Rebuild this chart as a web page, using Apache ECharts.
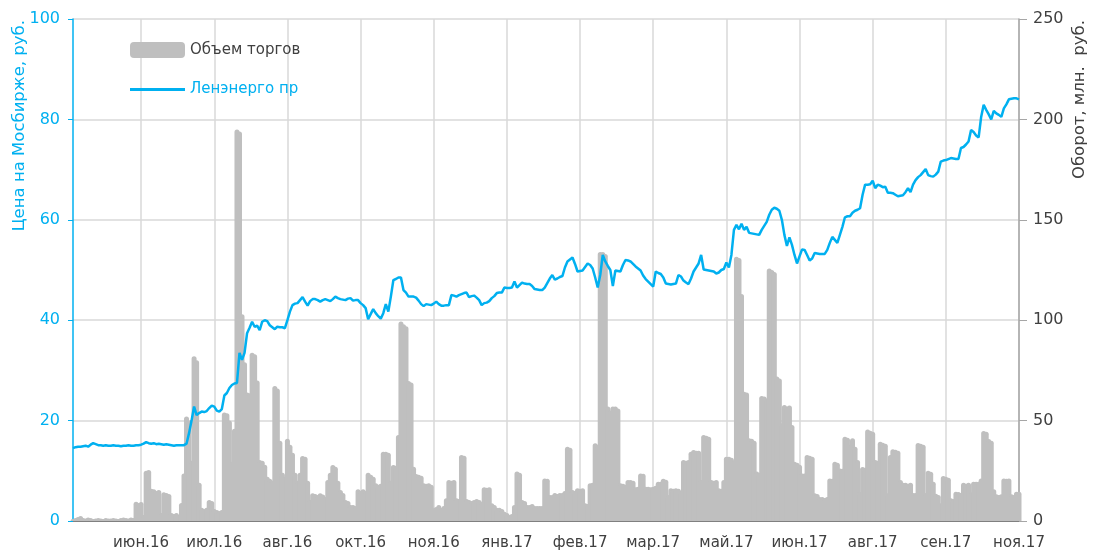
<!DOCTYPE html>
<html>
<head>
<meta charset="utf-8">
<script src="https://cdn.jsdelivr.net/npm/echarts@6/dist/echarts.min.js"></script>
<style>
  html, body { margin: 0; padding: 0; background: #fff; }
  #main { width: 1103px; height: 554px; }
</style>
</head>
<body>
<div id="main"></div>
<script>
// month labels shown under the x axis, one every tickStep trading days
const tickLabels = ['июн.16', 'июл.16', 'авг.16', 'окт.16', 'ноя.16', 'янв.17', 'фев.17',
  'мар.17', 'май.17', 'июн.17', 'авг.17', 'сен.17', 'ноя.17']
const firstTick = 27
const tickStep = 29

// close price, rub (left axis)
const price = [
  14.5, 14.7, 14.8, 14.8, 14.9, 15.0, 14.8, 15.2, 15.5, 15.3,
  15.1, 15.1, 15.0, 15.1, 15.0, 15.0, 15.1, 15.0, 15.0, 14.9,
  15.0, 15.0, 15.1, 15.0, 15.0, 15.1, 15.1, 15.2, 15.4, 15.7,
  15.5, 15.4, 15.5, 15.3, 15.4, 15.3, 15.2, 15.3, 15.2, 15.1,
  15.0, 15.1, 15.1, 15.1, 15.1, 15.4, 17.5, 20.0, 22.8, 21.1,
  21.5, 21.8, 21.7, 21.9, 22.5, 23.0, 22.8, 22.0, 21.8, 22.3,
  25.0, 25.5, 26.5, 27.1, 27.4, 27.5, 33.5, 32.1, 33.5, 37.4,
  38.5, 39.7, 38.7, 38.9, 38.0, 39.7, 40.0, 39.8, 39.0, 38.6,
  38.2, 38.7, 38.6, 38.6, 38.4, 40.0, 41.7, 43.0, 43.3, 43.4,
  44.0, 44.6, 43.7, 42.9, 43.8, 44.2, 44.2, 44.0, 43.7, 44.0,
  44.2, 44.0, 43.8, 44.2, 44.7, 44.4, 44.2, 44.1, 44.0, 44.3,
  44.4, 43.9, 44.0, 44.0, 43.4, 43.0, 42.4, 40.2, 41.2, 42.2,
  41.4, 40.8, 40.3, 41.4, 43.2, 41.7, 44.7, 48.0, 48.2, 48.5,
  48.5, 46.0, 45.5, 44.7, 44.7, 44.7, 44.5, 43.9, 43.2, 42.8,
  43.2, 43.1, 43.0, 43.3, 43.7, 43.2, 42.9, 42.9, 43.0, 43.0,
  45.0, 44.9, 44.7, 45.0, 45.2, 45.4, 45.5, 44.6, 44.8, 44.9,
  44.5, 44.0, 43.0, 43.4, 43.5, 43.8, 44.4, 44.8, 45.4, 45.5,
  45.5, 46.5, 46.4, 46.4, 46.5, 47.7, 46.5, 47.0, 47.5, 47.3,
  47.2, 47.2, 46.8, 46.2, 46.1, 46.0, 46.0, 46.5, 47.4, 48.3,
  49.0, 48.1, 48.3, 48.6, 48.8, 50.5, 51.7, 52.1, 52.5, 51.2,
  49.7, 49.8, 49.9, 50.6, 51.3, 51.0, 50.3, 48.5, 46.5, 49.0,
  53.0, 51.7, 50.8, 50.0, 46.8, 49.9, 49.8, 49.7, 51.0, 52.0,
  51.9, 51.7, 51.2, 50.7, 50.3, 49.9, 48.9, 48.2, 47.7, 47.2,
  46.7, 49.7, 49.4, 49.2, 48.5, 47.3, 47.2, 47.1, 47.2, 47.3,
  49.0, 48.7, 47.9, 47.5, 47.2, 48.3, 49.7, 50.5, 51.3, 53.0,
  50.1, 50.0, 49.9, 49.8, 49.7, 49.3, 49.5, 50.0, 50.2, 51.5,
  50.5, 53.0, 58.0, 59.0, 58.1, 59.2, 58.0, 58.6, 57.4, 57.3,
  57.2, 57.1, 57.0, 58.0, 58.8, 59.6, 61.0, 62.0, 62.4, 62.2,
  61.8, 60.0, 57.0, 54.8, 56.5, 55.0, 53.0, 51.3, 52.7, 54.1,
  54.0, 53.0, 51.9, 52.3, 53.4, 53.3, 53.2, 53.2, 53.2, 54.0,
  55.4, 56.6, 56.0, 55.4, 57.0, 58.6, 60.5, 60.7, 60.7, 61.4,
  61.8, 62.0, 62.3, 65.0, 67.0, 67.0, 67.1, 67.8, 66.3, 67.0,
  66.8, 66.5, 66.6, 65.4, 65.4, 65.3, 65.0, 64.7, 64.8, 64.9,
  65.5, 66.3, 65.5, 67.0, 67.9, 68.5, 68.9, 69.5, 70.1, 68.9,
  68.7, 68.6, 69.0, 69.6, 71.6, 71.8, 71.9, 72.1, 72.3, 72.2,
  72.1, 72.1, 74.3, 74.5, 75.0, 75.6, 77.9, 77.5, 76.8, 76.4,
  80.5, 82.9, 81.9, 81.0, 80.0, 81.7, 81.2, 80.9, 80.5, 82.2,
  83.0, 84.0, 84.1, 84.2, 84.2, 84.0
]

// turnover, mln rub (right axis)
const volume = [
  1.0, 1.5, 2.0, 2.5, 1.5, 1.2, 1.8, 1.5, 1.0, 1.2,
  1.5, 1.2, 1.0, 1.5, 1.3, 1.2, 1.5, 1.2, 1.0, 1.5,
  1.8, 1.5, 1.2, 1.8, 1.5, 9.6, 9.0, 9.5, 3.0, 25.0,
  25.4, 16.0, 15.8, 15.0, 15.5, 4.0, 14.3, 14.0, 13.5, 4.0,
  3.5, 4.0, 3.0, 9.0, 23.7, 52.0, 50.0, 30.0, 82.0, 80.0,
  19.0, 6.6, 6.0, 6.6, 10.5, 10.0, 6.0, 5.5, 5.0, 5.5,
  54.0, 53.6, 50.0, 29.5, 46.0, 195.0, 194.0, 103.0, 79.0, 64.0,
  63.6, 83.8, 83.0, 70.0, 30.4, 30.0, 28.0, 22.0, 21.0, 20.0,
  67.2, 66.0, 40.0, 24.0, 22.0, 41.0, 38.0, 34.0, 24.0, 20.0,
  24.0, 32.4, 32.0, 20.0, 10.5, 13.8, 13.5, 13.0, 13.8, 13.2,
  12.0, 20.4, 24.0, 27.9, 27.0, 20.0, 15.4, 14.0, 10.5, 10.0,
  8.0, 8.0, 7.5, 15.8, 15.0, 15.8, 15.0, 24.0, 23.0, 22.0,
  18.8, 18.0, 18.5, 34.5, 34.5, 34.0, 20.0, 27.9, 27.5, 42.8,
  99.3, 98.0, 97.0, 69.7, 69.0, 27.0, 23.4, 23.0, 22.5, 18.8,
  18.5, 18.8, 18.0, 6.3, 7.0, 8.0, 6.5, 7.5, 11.3, 20.4,
  20.0, 20.4, 11.3, 11.0, 32.9, 32.5, 11.0, 10.5, 10.0, 10.5,
  11.0, 10.5, 9.5, 16.8, 16.5, 16.8, 8.8, 8.0, 6.6, 6.6,
  6.0, 4.6, 4.0, 3.0, 3.5, 8.0, 24.6, 24.0, 10.5, 10.0,
  8.0, 8.0, 8.5, 7.5, 7.5, 7.5, 7.5, 21.2, 21.0, 13.0,
  13.0, 14.0, 13.5, 14.0, 14.0, 15.0, 37.0, 36.5, 15.4, 15.0,
  16.3, 16.0, 16.3, 8.8, 8.5, 18.8, 19.0, 38.7, 38.0, 134.0,
  134.0, 133.0, 57.0, 55.0, 57.0, 57.0, 56.0, 18.8, 18.5, 18.0,
  20.4, 20.4, 20.0, 16.8, 17.0, 23.7, 23.5, 17.0, 17.0, 16.8,
  17.0, 17.5, 19.6, 19.6, 21.0, 20.5, 13.0, 16.3, 16.0, 16.3,
  16.0, 15.0, 30.4, 30.0, 30.4, 34.5, 35.4, 35.0, 35.0, 20.4,
  42.8, 42.5, 42.0, 20.4, 20.0, 20.4, 16.3, 16.0, 20.4, 32.0,
  32.0, 31.5, 30.0, 131.6, 131.0, 113.0, 64.4, 64.0, 41.2, 41.0,
  40.0, 24.6, 24.0, 62.3, 62.0, 61.0, 125.8, 125.0, 124.0, 71.9,
  71.0, 48.7, 57.8, 57.0, 57.5, 47.8, 29.5, 29.0, 28.0, 23.7,
  23.7, 32.9, 32.5, 32.0, 13.8, 13.5, 12.0, 12.0, 11.5, 12.0,
  21.2, 21.0, 29.5, 29.0, 26.2, 26.0, 42.0, 41.5, 37.8, 41.2,
  37.0, 30.4, 14.6, 26.9, 26.5, 45.6, 45.0, 44.5, 30.4, 30.0,
  39.5, 39.0, 38.5, 13.8, 32.9, 35.7, 35.5, 35.0, 20.4, 19.0,
  19.0, 18.5, 19.0, 14.0, 14.0, 38.9, 38.5, 38.0, 14.0, 25.0,
  24.5, 19.6, 13.6, 13.0, 8.8, 22.4, 22.0, 21.5, 11.3, 11.0,
  14.6, 14.5, 14.0, 19.0, 18.5, 19.0, 14.3, 19.6, 19.5, 19.6,
  21.2, 44.8, 44.5, 40.8, 40.0, 15.8, 13.3, 13.0, 13.3, 21.2,
  21.0, 21.2, 13.3, 13.0, 14.6, 14.6
]

const categories = price.map((_, i) => i)
const isTick = i => i >= firstTick && (i - firstTick) % tickStep === 0

const CYAN = '#00b0f0'
const GREY = '#bfbfbf'
const TEXT = '#404040'
const FONT = 'DejaVu Sans'

const chart = echarts.init(document.getElementById('main'))
const option = {
  animation: false,
  textStyle: { fontFamily: FONT },
  grid: { left: 73, right: 84, top: 19, bottom: 33 },
  legend: {
    orient: 'vertical',
    left: 125,
    top: 37,
    itemWidth: 55,
    itemHeight: 16,
    itemGap: 24,
    data: [
      { name: 'Объем торгов', icon: 'roundRect', textStyle: { color: TEXT } },
      { name: 'Ленэнерго пр', icon: 'path://M0,0 L55,0 L55,3 L0,3 Z', textStyle: { color: CYAN } },
    ],
    textStyle: { fontFamily: FONT, fontSize: 15 },
  },
  xAxis: {
    type: 'category',
    data: categories,
    boundaryGap: false,
    axisLine: { lineStyle: { color: '#808080', width: 2 } },
    axisTick: { show: false },
    axisLabel: {
      interval: (i) => isTick(i),
      formatter: (v, i) => tickLabels[(i - firstTick) / tickStep] || '',
      color: TEXT,
      fontSize: 15,
      margin: 15,
    },
    splitLine: {
      show: true,
      interval: (i) => isTick(i),
      lineStyle: { color: '#d9d9d9', width: 1.5 },
    },
  },
  yAxis: [
    {
      type: 'value',
      min: 0,
      max: 100,
      interval: 20,
      axisLine: { show: true, lineStyle: { color: CYAN, width: 1.5 } },
      axisTick: { show: true, length: 5, lineStyle: { color: CYAN } },
      axisLabel: { color: CYAN, fontSize: 16, margin: 13 },
      splitLine: { lineStyle: { color: '#d9d9d9', width: 1.5 } },
    },
    {
      type: 'value',
      min: 0,
      max: 250,
      interval: 50,
      axisLine: { show: true, lineStyle: { color: '#a6a6a6', width: 1.5 } },
      axisTick: { show: true, length: 8, lineStyle: { color: '#a6a6a6' } },
      axisLabel: { color: TEXT, fontSize: 16, margin: 14 },
      splitLine: { show: false },
    },
  ],
  graphic: [
    {
      type: 'text',
      x: 11,
      y: 20,
      rotation: Math.PI / 2,
      style: {
        text: 'Цена на Мосбирже, руб.',
        fill: CYAN,
        font: '16.5px "DejaVu Sans"',
        align: 'right',
        verticalAlign: 'top',
      },
    },
    {
      type: 'text',
      x: 1071,
      y: 20,
      rotation: Math.PI / 2,
      style: {
        text: 'Оборот, млн.  руб.',
        fill: TEXT,
        font: '16.5px "DejaVu Sans"',
        align: 'right',
        verticalAlign: 'top',
      },
    },
  ],
  series: [
    {
      name: 'Объем торгов',
      type: 'bar',
      yAxisIndex: 1,
      data: volume,
      barWidth: 5,
      barGap: '-100%',
      itemStyle: { color: GREY, borderRadius: [3, 3, 0, 0] },
    },
    {
      name: 'Ленэнерго пр',
      type: 'line',
      yAxisIndex: 0,
      data: price,
      symbol: 'none',
      lineStyle: { color: CYAN, width: 2.5 },
      itemStyle: { color: CYAN },
    },
  ],
}
chart.setOption(option)
</script>
</body>
</html>
